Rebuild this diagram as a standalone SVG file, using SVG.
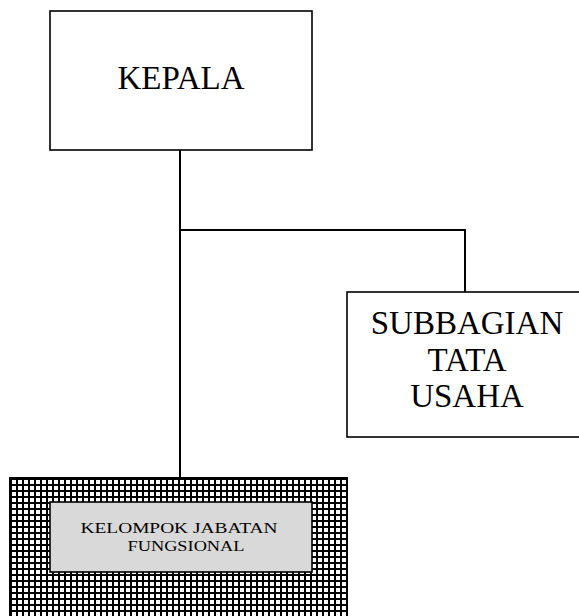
<svg xmlns="http://www.w3.org/2000/svg" width="579" height="616" viewBox="0 0 579 616">
<style>
.box{fill:#fff;stroke:#000;stroke-width:1.6}
.t{font-family:"Liberation Serif","DejaVu Serif",serif;fill:#000;text-anchor:middle}
.big{font-size:33px}
.small{font-size:15.5px}
.conn{stroke:#000;stroke-width:2;fill:none}
</style>
<defs>
<pattern id="grid" x="10" y="478" width="6" height="6" patternUnits="userSpaceOnUse">
<rect width="6" height="6" fill="#000"/>
<rect x="2" y="2" width="4" height="4" fill="#fff"/>
</pattern>
</defs>
<rect width="579" height="616" fill="#fff"/>
<g id="connectors">
<path class="conn" d="M180,150 V478"/>
<path class="conn" d="M180,230 H465 V292"/>
</g>
<g id="kepala">
<rect class="box" x="50" y="11" width="262" height="139"/>
<text class="t big" x="181" y="89">KEPALA</text>
</g>
<g id="subbagian">
<rect class="box" x="347" y="292" width="240" height="145"/>
<text class="t big" x="467" y="334">SUBBAGIAN</text>
<text class="t big" x="467" y="371">TATA</text>
<text class="t big" x="467" y="407">USAHA</text>
</g>
<g id="kelompok">
<rect x="10" y="478" width="337" height="145" fill="url(#grid)" stroke="#000" stroke-width="2"/>
<rect x="50" y="502" width="262" height="70" fill="#d9d9d9" stroke="#000" stroke-width="1.6"/>
<text class="t small" x="179" y="533" textLength="197" lengthAdjust="spacingAndGlyphs">KELOMPOK JABATAN</text>
<text class="t small" x="186" y="551" textLength="117" lengthAdjust="spacingAndGlyphs">FUNGSIONAL</text>
</g>
</svg>
